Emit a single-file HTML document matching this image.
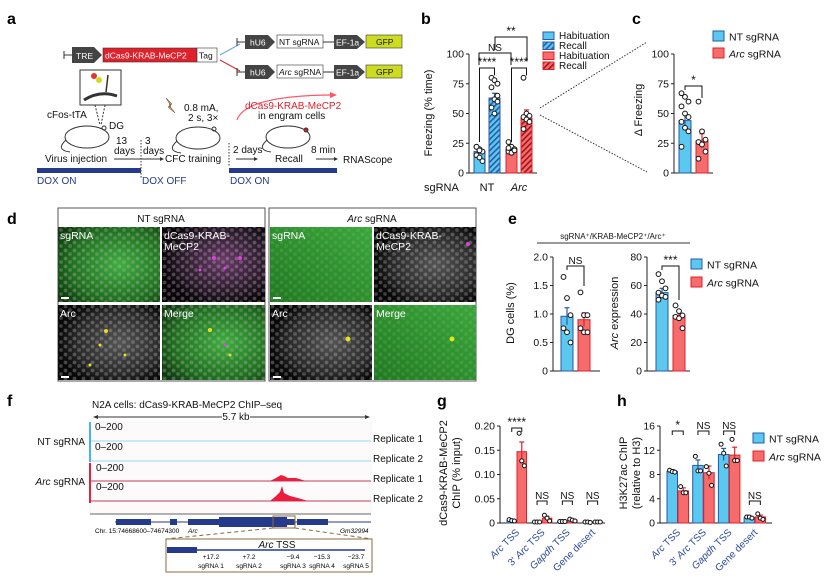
<!DOCTYPE html>
<html><head><meta charset="utf-8">
<style>
html,body{margin:0;padding:0;background:#fff;}
svg{display:block;font-family:"Liberation Sans",Arial,sans-serif;}
.lt{font-weight:bold;font-size:16px;}
.t{font-size:10px;fill:#111;}
.c{font-size:8.5px;fill:#111;}
.s{font-size:8px;fill:#111;}
</style></head>
<body>
<svg id="fig" width="828" height="580" viewBox="0 0 828 580" xmlns="http://www.w3.org/2000/svg">
<defs>
 <pattern id="hb" width="4" height="4" patternUnits="userSpaceOnUse" patternTransform="rotate(45)">
  <rect width="4" height="4" fill="#5bc8ef"/><rect width="1.6" height="4" fill="#2a5aa8"/></pattern>
 <pattern id="hr" width="4" height="4" patternUnits="userSpaceOnUse" patternTransform="rotate(45)">
  <rect width="4" height="4" fill="#f66b6b"/><rect width="1.6" height="4" fill="#a0141c"/></pattern>
 <radialGradient id="gG" cx="60%" cy="50%" r="70%"><stop offset="0" stop-color="#3fae3f"/><stop offset="0.7" stop-color="#1f6e1f"/><stop offset="1" stop-color="#0e3a0e"/></radialGradient>
 <radialGradient id="gW" cx="60%" cy="50%" r="60%"><stop offset="0" stop-color="#555"/><stop offset="0.7" stop-color="#2a2a2a"/><stop offset="1" stop-color="#070707"/></radialGradient>
 <radialGradient id="gM" cx="60%" cy="45%" r="60%"><stop offset="0" stop-color="#6a3a6a"/><stop offset="0.7" stop-color="#2a1a2a"/><stop offset="1" stop-color="#0a040a"/></radialGradient>
 <linearGradient id="gG2" x1="0" y1="1" x2="1" y2="0"><stop offset="0" stop-color="#1f7a1f"/><stop offset="1" stop-color="#3aa83a"/></linearGradient>
 <pattern id="cells" width="9" height="8" patternUnits="userSpaceOnUse"><circle cx="2.5" cy="2.5" r="1.9" fill="#bbb" opacity="0.35"/><circle cx="7" cy="6" r="1.9" fill="#bbb" opacity="0.3"/></pattern>
</defs>

<text class="lt" x="7" y="24">a</text>
<text class="lt" x="421" y="24">b</text>
<text class="lt" x="632" y="24">c</text>
<text class="lt" x="7" y="224">d</text>
<text class="lt" x="508" y="224">e</text>
<text class="lt" x="7" y="406">f</text>
<text class="lt" x="437" y="406">g</text>
<text class="lt" x="617" y="406">h</text>

<g>
 <line x1="64" y1="55" x2="72" y2="55" stroke="#333"/><line x1="64" y1="51" x2="64" y2="59" stroke="#333"/>
 <polygon points="72,47 94,47 102,55 94,63 72,63" fill="#444"/><text x="76" y="59" class="c" style="fill:#fff">TRE</text>
 <rect x="103" y="48" width="94" height="14" fill="#e0202a" stroke="#333" stroke-width="0.6"/><text x="105" y="58.5" class="c" style="fill:#fff">dCas9-KRAB-MeCP2</text>
 <rect x="197" y="48" width="20" height="14" fill="#fff" stroke="#333" stroke-width="0.6"/><text x="199" y="58.5" class="c">Tag</text>
 <line x1="220" y1="55" x2="240" y2="44" stroke="#6aa6d8"/><line x1="220" y1="60" x2="240" y2="71" stroke="#d62a3a"/>
 <g>
  <line x1="237" y1="42" x2="245" y2="42" stroke="#333"/><line x1="237" y1="38" x2="237" y2="46" stroke="#333"/>
  <polygon points="245,35 268,35 275,42 268,49 245,49" fill="#444"/><text x="250" y="45.5" class="c" style="fill:#fff">hU6</text>
  <rect x="277" y="35" width="46" height="13" fill="#fff" stroke="#333" stroke-width="0.6"/><text x="279" y="45" class="c">NT sgRNA</text>
  <line x1="323" y1="42" x2="334" y2="42" stroke="#333"/>
  <polygon points="334,35 357,35 365,42 357,49 334,49" fill="#444"/><text x="336" y="45.5" class="c" style="fill:#fff">EF-1a</text>
  <rect x="366" y="35" width="36" height="13" fill="#cddc1e" stroke="#333" stroke-width="0.6"/><text x="376" y="45" class="c">GFP</text>
 </g>
 <g>
  <line x1="237" y1="72" x2="245" y2="72" stroke="#333"/><line x1="237" y1="68" x2="237" y2="76" stroke="#333"/>
  <polygon points="245,65 268,65 275,72 268,79 245,79" fill="#444"/><text x="250" y="75.5" class="c" style="fill:#fff">hU6</text>
  <rect x="277" y="65" width="46" height="13" fill="#fff" stroke="#333" stroke-width="0.6"/><text x="279" y="75" class="c"><tspan font-style="italic">Arc</tspan> sgRNA</text>
  <line x1="323" y1="72" x2="334" y2="72" stroke="#333"/>
  <polygon points="334,65 357,65 365,72 357,79 334,79" fill="#444"/><text x="336" y="75.5" class="c" style="fill:#fff">EF-1a</text>
  <rect x="366" y="65" width="36" height="13" fill="#cddc1e" stroke="#333" stroke-width="0.6"/><text x="376" y="75" class="c">GFP</text>
 </g>
 <rect x="80" y="70" width="41" height="35" fill="#fff" stroke="#333"/>
 <circle cx="94" cy="76" r="3" fill="#e83030"/><circle cx="99" cy="80" r="3" fill="#cddc1e"/>
 <path d="M84 100 Q100 90 117 96" stroke="#333" stroke-width="3" fill="none"/>
 <line x1="108" y1="75" x2="106" y2="92" stroke="#333" stroke-width="1.5"/>
 <line x1="95" y1="105" x2="100" y2="125" stroke="#333" stroke-dasharray="2,1.5"/><line x1="105" y1="105" x2="101" y2="125" stroke="#333" stroke-dasharray="2,1.5"/>
 <text x="47" y="118" class="t">cFos-tTA</text><text x="109" y="129" class="t">DG</text>
 <g fill="none" stroke="#333" stroke-width="1"><ellipse cx="87" cy="137" rx="22" ry="11"/><path d="M66 140 Q55 150 70 152"/><circle cx="104" cy="128" r="2"/></g>
 <g fill="none" stroke="#333" stroke-width="1"><ellipse cx="198" cy="138" rx="22" ry="11"/><path d="M177 141 Q166 151 181 153"/><circle cx="214" cy="129" r="2"/></g>
 <g fill="none" stroke="#333" stroke-width="1"><ellipse cx="288" cy="137" rx="22" ry="11"/><path d="M267 140 Q256 150 271 152"/><circle cx="306" cy="130" r="2" fill="#e02020"/></g>
 <polygon points="166,98 172,104 169,105 175,113 168,107 171,106" fill="#f0a030" stroke="#333" stroke-width="0.5"/>
 <text x="184" y="111" class="t">0.8 mA,</text><text x="188" y="121" class="t">2 s, 3×</text>
 <path d="M237 120 Q245 96 330 95" stroke="#f56" fill="none" stroke-width="1.2"/><polygon points="330,92 337,95 330,98" fill="#f56"/>
 <text x="245" y="109" class="t" style="fill:#e0202a">dCas9-KRAB-MeCP2</text><text x="258" y="119" class="t">in engram cells</text>
 <text x="116" y="144" class="t">13</text><text x="114" y="154" class="t">days</text><text x="145" y="144" class="t">3</text><text x="143" y="154" class="t">days</text>
 <text x="45" y="162" class="t">Virus injection</text>
 <line x1="114" y1="159" x2="160" y2="159" stroke="#333"/><polygon points="160,157 164,159 160,161" fill="#333"/>
 <line x1="141" y1="140" x2="141" y2="178" stroke="#333" stroke-dasharray="1.5,1.5"/>
 <line x1="229" y1="143" x2="229" y2="166" stroke="#333" stroke-dasharray="1.5,1.5"/>
 <text x="165" y="162" class="t">CFC training</text>
 <text x="233" y="153" class="t">2 days</text><line x1="236" y1="159" x2="254" y2="159" stroke="#333"/><polygon points="254,157 258,159 254,161" fill="#333"/>
 <text x="275" y="162" class="t">Recall</text>
 <text x="311" y="153" class="t">8 min</text><line x1="316" y1="159" x2="334" y2="159" stroke="#333"/><polygon points="334,157 338,159 334,161" fill="#333"/>
 <text x="343" y="163" class="t">RNAScope</text>
 <rect x="37" y="168" width="104" height="5" fill="#253a8a"/><rect x="229" y="168" width="108" height="5" fill="#253a8a"/>
 <text x="37" y="184" class="t" style="fill:#253a8a">DOX ON</text><text x="142" y="184" class="t" style="fill:#253a8a">DOX OFF</text><text x="230" y="184" class="t" style="fill:#253a8a">DOX ON</text>
</g>

<line x1="540" y1="108" x2="647" y2="42" stroke="#333" stroke-dasharray="1.5,1.5"/>
<line x1="540" y1="115" x2="647" y2="172" stroke="#333" stroke-dasharray="1.5,1.5"/>

<g>
 <rect x="58" y="208" width="207" height="173" fill="#fff" stroke="#555"/>
 <text x="161" y="222" class="t" text-anchor="middle" font-size="11">NT sgRNA</text>
 <rect x="269" y="208" width="207" height="173" fill="#fff" stroke="#555"/>
 <text x="372" y="222" class="t" text-anchor="middle" font-size="11"><tspan font-style="italic">Arc</tspan> sgRNA</text>
 <rect x="58" y="227" width="102" height="75" fill="url(#gG)"/><rect x="58" y="227" width="102" height="75" fill="url(#cells)"/>
 <rect x="162" y="227" width="103" height="75" fill="url(#gM)"/><rect x="162" y="227" width="103" height="75" fill="url(#cells)"/>
 <rect x="58" y="305" width="102" height="75" fill="url(#gW)"/><rect x="58" y="305" width="102" height="75" fill="url(#cells)"/>
 <rect x="162" y="305" width="103" height="75" fill="url(#gG)"/><rect x="162" y="305" width="103" height="75" fill="url(#cells)"/>
 <rect x="270" y="227" width="102" height="75" fill="url(#gG2)"/><rect x="270" y="227" width="102" height="75" fill="url(#cells)" opacity="0.5"/>
 <rect x="374" y="227" width="102" height="75" fill="url(#gW)"/><rect x="374" y="227" width="102" height="75" fill="url(#cells)"/>
 <rect x="270" y="305" width="102" height="75" fill="url(#gW)"/><rect x="270" y="305" width="102" height="75" fill="url(#cells)"/>
 <rect x="374" y="305" width="102" height="75" fill="url(#gG2)"/><rect x="374" y="305" width="102" height="75" fill="url(#cells)" opacity="0.5"/>
 <g font-size="10.5" fill="#fff">
  <text x="60" y="239">sgRNA</text><text x="164" y="239">dCas9-KRAB-</text><text x="164" y="250">MeCP2</text>
  <text x="60" y="317">Arc</text><text x="164" y="317">Merge</text>
  <text x="272" y="239">sgRNA</text><text x="376" y="239">dCas9-KRAB-</text><text x="376" y="250">MeCP2</text>
  <text x="272" y="317">Arc</text><text x="376" y="317">Merge</text>
 </g>
 <g fill="#e8e020"><circle cx="106" cy="331" r="2"/><circle cx="100" cy="345" r="1.5"/><circle cx="125" cy="355" r="1.5"/><circle cx="90" cy="365" r="1.5"/><circle cx="210" cy="330" r="2"/><circle cx="230" cy="355" r="1.5"/><circle cx="348" cy="339" r="2.5"/><circle cx="452" cy="339" r="2.5"/></g>
 <g fill="#e040e0"><circle cx="214" cy="258" r="2"/><circle cx="240" cy="258" r="2"/><circle cx="225" cy="268" r="1.5"/><circle cx="200" cy="270" r="1.5"/><circle cx="468" cy="244" r="2"/><circle cx="225" cy="345" r="1.5"/></g>
 <g fill="#fff"><rect x="61" y="297" width="8" height="2"/><rect x="61" y="376" width="8" height="2"/><rect x="273" y="297" width="8" height="2"/><rect x="273" y="376" width="8" height="2"/></g>
</g>

<text x="613" y="239" class="s" font-size="9" text-anchor="middle">sgRNA⁺/KRAB-MeCP2⁺/Arc⁺</text>
<line x1="537" y1="243" x2="690" y2="243" stroke="#333"/>

<g>
 <text x="92" y="408" class="t" font-size="11">N2A cells: dCas9-KRAB-MeCP2 ChIP–seq</text>
 <line x1="95" y1="417" x2="368" y2="417" stroke="#333"/><polygon points="93,417 98,415 98,419" fill="#333"/><polygon points="370,417 365,415 365,419" fill="#333"/>
 <rect x="222" y="411" width="28" height="11" fill="#fff"/><text x="236" y="420" class="t" text-anchor="middle">5.7 kb</text>
 <rect x="90" y="422" width="281" height="92" fill="#fcfafa" stroke="#eee" stroke-width="0.5"/>
 <rect x="89" y="422" width="2" height="40" fill="#42b6e8"/><rect x="89" y="463" width="2" height="40" fill="#e8203a"/>
 <line x1="91" y1="441" x2="371" y2="441" stroke="#9cd6ee"/><line x1="91" y1="461" x2="371" y2="461" stroke="#9cd6ee"/>
 <line x1="91" y1="481" x2="371" y2="481" stroke="#c04060"/><line x1="91" y1="501" x2="371" y2="501" stroke="#c04060"/>
 <path d="M270 481 L276 478 L281 475 L284 476 L288 478 L296 478 L306 481 Z" fill="#ee1c3c"/>
 <path d="M270 501 L276 496 L280 492 L282 486 L284 493 L290 496 L298 498 L308 501 Z" fill="#ee1c3c"/>
 <g class="t"><text x="95" y="430">0–200</text><text x="95" y="450">0–200</text><text x="96" y="471">0–200</text><text x="96" y="490">0–200</text></g>
 <text x="85" y="445" class="t" text-anchor="end">NT sgRNA</text>
 <text x="85" y="485" class="t" text-anchor="end"><tspan font-style="italic">Arc</tspan> sgRNA</text>
 <g class="t"><text x="373" y="442">Replicate 1</text><text x="373" y="462">Replicate 2</text><text x="373" y="482">Replicate 1</text><text x="373" y="502">Replicate 2</text></g>
 <line x1="90" y1="514" x2="371" y2="514" stroke="#666"/>
 <line x1="115" y1="522" x2="371" y2="522" stroke="#253a8a"/>
 <g fill="#253a8a"><rect x="116" y="519" width="35" height="6"/><rect x="170" y="519" width="7" height="6"/><rect x="188" y="519" width="31" height="6"/><rect x="219" y="517" width="68" height="10"/><rect x="287" y="519" width="8" height="6"/><rect x="297" y="519" width="31" height="6"/></g>
 <rect x="273" y="516" width="22" height="12" fill="none" stroke="#8a6a40" stroke-width="1"/>
 <text x="95" y="533" font-size="6.5">Chr. 15:74668600–74674300</text><text x="188" y="533" font-size="6.5" font-style="italic">Arc</text><text x="340" y="533" font-size="6.5" font-style="italic">Gm32994</text>
 <line x1="273" y1="528" x2="166" y2="539" stroke="#8a6a40" stroke-dasharray="4,3"/><line x1="295" y1="528" x2="372" y2="539" stroke="#8a6a40" stroke-dasharray="4,3"/>
 <rect x="166" y="539" width="206" height="33" fill="#fff" stroke="#8a6a40"/>
 <rect x="167" y="547" width="30" height="6" fill="#253a8a"/><line x1="197" y1="550" x2="365" y2="550" stroke="#253a8a" stroke-width="1.5"/>
 <text x="277" y="548" class="t" text-anchor="middle"><tspan font-style="italic">Arc</tspan> TSS</text>
 <g font-size="6.5" text-anchor="middle"><text x="211" y="559">+17.2</text><text x="249" y="559">+7.2</text><text x="293" y="559">−9.4</text><text x="322" y="559">−15.3</text><text x="356" y="559">−23.7</text>
 <text x="211" y="568">sgRNA 1</text><text x="249" y="568">sgRNA 2</text><text x="293" y="568">sgRNA 3</text><text x="322" y="568">sgRNA 4</text><text x="356" y="568">sgRNA 5</text></g>
</g>

<g id="charts"></g>
</svg>

<script>
var bCategories = ["NT", "Arc"];
var bHabituation = [18, 20];
var bRecall = [63, 46];
var bHabSem = [2, 2];
var bRecSem = [4, 7];
var bDotsNTHab = [22, 20, 18, 15, 13, 10, 22, 19];
var bDotsNTRec = [80, 78, 75, 72, 62, 60, 55, 50, 65];
var bDotsArcHab = [26, 22, 20, 18, 17, 19, 21];
var bDotsArcRec = [80, 50, 48, 47, 45, 43, 37];
var bTicks = [0, 25, 50, 75, 100];
var cValues = [44, 27];
var cSem = [5, 6];
var cDotsNT = [67, 64, 60, 56, 50, 47, 43, 38, 35, 22];
var cDotsArc = [60, 35, 28, 26, 24, 18, 12];
var cTicks = [0, 25, 50, 75, 100];
var e1Values = [0.96, 0.9];
var e1Sem = [0.15, 0.12];
var e1DotsNT = [1.65, 1.28, 0.98, 0.75, 0.68, 0.5];
var e1DotsArc = [1.38, 0.98, 0.98, 0.75, 0.68, 0.68];
var e1Ticks = [0, 0.5, 1.0, 1.5, 2.0];
var e1TickLabels = ["0", "0.5", "1.0", "1.5", "2.0"];
var e2Values = [55, 39];
var e2Sem = [3, 2.5];
var e2DotsNT = [68, 63, 58, 55, 53, 52, 50];
var e2DotsArc = [46, 42, 39, 38, 37, 30];
var e2Ticks = [0, 20, 40, 60, 80];
var gCategories = ["Arc TSS", "3′ Arc TSS", "Gapdh TSS", "Gene desert"];
var gNT = [0.005, 0.002, 0.003, 0.002];
var gArc = [0.147, 0.01, 0.006, 0.002];
var gNTSem = [0.002, 0.001, 0.001, 0.001];
var gArcSem = [0.02, 0.004, 0.002, 0.001];
var gDotsNT = [[0.007, 0.005, 0.004], [0.002, 0.002, 0.002], [0.003, 0.003, 0.003], [0.002, 0.002, 0.001]];
var gDotsArc = [[0.185, 0.128, 0.118], [0.016, 0.01, 0.004], [0.008, 0.006, 0.004], [0.002, 0.002, 0.002]];
var gTicks = [0, 0.05, 0.10, 0.15, 0.20];
var gTickLabels = ["0", "0.05", "0.10", "0.15", "0.20"];
var gSig = ["****", "NS", "NS", "NS"];
var hNT = [8.5, 9.5, 11.3, 0.9];
var hArc = [5.3, 8.3, 11.2, 1.0];
var hNTSem = [0.3, 0.9, 1.0, 0.2];
var hArcSem = [0.5, 1.1, 1.3, 0.3];
var hDotsNT = [[8.7, 8.5, 8.4], [11, 8.6, 8.6], [13, 11.5, 9.4], [1.0, 1.0, 0.8]];
var hDotsArc = [[6.0, 5.0, 5.0], [9.3, 8.2, 6.2], [13.8, 10.3, 10.3], [1.5, 0.8, 0.6]];
var hTicks = [0, 4, 8, 12, 16];
var hSig = ["*", "NS", "NS", "NS"];

var NS = "http://www.w3.org/2000/svg";
var root = document.getElementById("charts");
var BLUE = "#5bc8ef", BLUE_S = "#2a5aa8", RED = "#f66b6b", RED_S = "#e0202a";
function mk(tag, attrs, parent) {
  var e = document.createElementNS(NS, tag);
  for (var k in attrs) e.setAttribute(k, attrs[k]);
  (parent || root).appendChild(e);
  return e;
}
function txt(x, y, s, attrs, parent) {
  var e = mk("text", attrs || {}, parent);
  e.setAttribute("x", x); e.setAttribute("y", y);
  e.textContent = s;
  return e;
}
function linScale(d0, d1, r0, r1) { return function (v) { return r0 + (v - d0) / (d1 - d0) * (r1 - r0); }; }

function axis(g, x0, x1, y, ticks, labels, yTop, titleLines, titleX, titleY) {
  mk("line", { x1: x0, y1: y(ticks[0]), x2: x0, y2: y(ticks[ticks.length - 1]), stroke: "#222", "stroke-width": 1 }, g);
  mk("line", { x1: x0, y1: y(ticks[0]), x2: x1, y2: y(ticks[0]), stroke: "#222", "stroke-width": 1 }, g);
  for (var i = 0; i < ticks.length; i++) {
    mk("line", { x1: x0 - 3, y1: y(ticks[i]), x2: x0, y2: y(ticks[i]), stroke: "#222" }, g);
    var t = txt(x0 - 5, y(ticks[i]) + 3.5, labels ? labels[i] : String(ticks[i]), { "font-size": "10.5", "text-anchor": "end", fill: "#111" }, g);
    
    
  }
  for (var j = 0; j < titleLines.length; j++) {
    var tx = titleX + j * 13;
    var tt = txt(tx, titleY, "", { "font-size": "11", "text-anchor": "middle", transform: "rotate(-90 " + tx + " " + titleY + ")", fill: "#111" }, g);
    tt.innerHTML = titleLines[j];
    
    
  }
}
function bar(g, x, w, y, v, sem, fill, stroke, name) {
  var r = mk("rect", { x: x, y: y(v), width: w, height: y(0) - y(v), fill: fill, stroke: stroke, "stroke-width": 1 }, g);
  
  
  var cx = x + w / 2;
  mk("line", { x1: cx, y1: y(v + sem), x2: cx, y2: y(v - sem), stroke: stroke, "stroke-width": 1.2 }, g);
  mk("line", { x1: cx - 2.5, y1: y(v + sem), x2: cx + 2.5, y2: y(v + sem), stroke: stroke, "stroke-width": 1.2 }, g);
}
function dots(g, cx, y, vals, spread, r) {
  for (var i = 0; i < vals.length; i++) {
    var off = ((i % 3) - 1) * spread;
    var c = mk("circle", { cx: cx + off, cy: y(vals[i]), r: r || 2.4, fill: "#fff", stroke: "#111", "stroke-width": 1 }, g);
    
    
  }
}
function bracket(g, xa, xb, yTop, ya, yb, label) {
  mk("polyline", { points: xa + "," + ya + " " + xa + "," + yTop + " " + xb + "," + yTop + " " + xb + "," + yb, fill: "none", stroke: "#111", "stroke-width": 1 }, g);
  var t = txt((xa + xb) / 2, yTop - 2, label, { "font-size": label.indexOf("*") >= 0 ? "12" : "10", "text-anchor": "middle", fill: "#111" }, g);
  
  
}
function legend(g, x, y, fill, stroke, html, h, fs) {
  var r = mk("rect", { x: x, y: y, width: 11, height: h || 10, fill: fill, stroke: stroke, "stroke-width": 1 }, g);
  
  
  var t = txt(x + 16, y + (h || 10) - 0.5, "", { "font-size": fs || "10.5", fill: "#111" }, g);
  t.innerHTML = html;
  
  
}
function group(name) {
  var g = mk("g", {});
  
  
  return g;
}

(function () {
  var g = group("panel-b-chart");
  var y = linScale(0, 100, 173, 54);
  axis(g, 469, 537, y, bTicks, null, 54, ["Freezing (% time)"], 432, 113);
  var gs = 32, bs = 15, w = 11, x0 = 474;
  var hab = [BLUE, RED], rec = ["url(#hb)", "url(#hr)"], st = [BLUE_S, RED_S];
  var dH = [bDotsNTHab, bDotsArcHab], dR = [bDotsNTRec, bDotsArcRec];
  for (var i = 0; i < bCategories.length; i++) {
    var xa = x0 + i * gs;
    bar(g, xa, w, y, bHabituation[i], bHabSem[i], hab[i], st[i], "bar-habituation-" + bCategories[i].toLowerCase());
    bar(g, xa + bs, w, y, bRecall[i], bRecSem[i], rec[i], st[i], "bar-recall-" + bCategories[i].toLowerCase());
    dots(g, xa + w / 2, y, dH[i], 3);
    dots(g, xa + bs + w / 2, y, dR[i], 3);
    var lt = txt(xa + bs - 2, 191, bCategories[i], { "font-size": "11", "text-anchor": "middle", "font-style": i ? "italic" : "normal", fill: "#111" }, g);
    
    
    bracket(g, xa + w / 2, xa + bs + w / 2, 68, y(26), y(82), "****");
  }
  bracket(g, 479, 511, 53, 65, 65, "NS");
  bracket(g, 495, 527, 37, 50, 61, "**");
  txt(424, 191, "sgRNA", { "font-size": "11", fill: "#111" }, g);
  legend(g, 543, 32, BLUE, BLUE_S, "Habituation", 7.5, "10");
  legend(g, 543, 42, "url(#hb)", BLUE_S, "Recall", 7.5, "10");
  legend(g, 543, 52, RED, RED_S, "Habituation", 7.5, "10");
  legend(g, 543, 62, "url(#hr)", RED_S, "Recall", 7.5, "10");
})();

(function () {
  var g = group("panel-c-chart");
  var y = linScale(0, 100, 173, 54);
  axis(g, 674, 713, y, cTicks, null, 54, ["Δ Freezing"], 642, 110);
  bar(g, 679, 12, y, cValues[0], cSem[0], BLUE, BLUE_S, "bar-nt-sgrna");
  bar(g, 696, 12, y, cValues[1], cSem[1], RED, RED_S, "bar-arc-sgrna");
  dots(g, 685, y, cDotsNT, 3.5);
  dots(g, 702, y, cDotsArc, 3.5);
  bracket(g, 685, 702, 86, 90, 98, "*");
  legend(g, 713, 31, BLUE, BLUE_S, "NT sgRNA");
  legend(g, 713, 48, RED, RED_S, "<tspan font-style='italic'>Arc</tspan> sgRNA");
})();

(function () {
  var g = group("panel-e1-chart");
  var y = linScale(0, 2, 371, 257);
  axis(g, 553, 600, y, e1Ticks, e1TickLabels, 257, ["DG cells (%)"], 514, 313);
  bar(g, 561, 12, y, e1Values[0], e1Sem[0], BLUE, BLUE_S, "bar-nt-sgrna");
  bar(g, 578, 12, y, e1Values[1], e1Sem[1], RED, RED_S, "bar-arc-sgrna");
  dots(g, 567, y, e1DotsNT, 3.5);
  dots(g, 584, y, e1DotsArc, 3.5);
  bracket(g, 567, 584, 266, 270, 286, "NS");
  var g2 = group("panel-e2-chart");
  var y2 = linScale(0, 80, 371, 257);
  axis(g2, 647, 690, y2, e2Ticks, null, 257, ["<tspan font-style='italic'>Arc</tspan> expression"], 618, 313);
  bar(g2, 656, 12, y2, e2Values[0], e2Sem[0], BLUE, BLUE_S, "bar-nt-sgrna");
  bar(g2, 673, 12, y2, e2Values[1], e2Sem[1], RED, RED_S, "bar-arc-sgrna");
  dots(g2, 662, y2, e2DotsNT, 3.5);
  dots(g2, 679, y2, e2DotsArc, 3.5);
  bracket(g2, 662, 679, 266, 270, 300, "***");
  legend(g2, 691, 259, BLUE, BLUE_S, "NT sgRNA");
  legend(g2, 691, 277, RED, RED_S, "<tspan font-style='italic'>Arc</tspan> sgRNA");
})();

function grouped(name, x0, xEnd, gs, bs, w, y, ticks, labels, title, titleX, nt, arc, ntS, arcS, dNT, dArc, sig, sigY) {
  var g = group(name);
  axis(g, x0, xEnd, y, ticks, labels, 0, title, titleX, 473);
  for (var i = 0; i < gCategories.length; i++) {
    var xa = x0 + 7 + i * gs;
    bar(g, xa, w, y, nt[i], ntS[i], BLUE, BLUE_S, "bar-nt-" + i);
    bar(g, xa + bs, w, y, arc[i], arcS[i], RED, RED_S, "bar-arc-" + i);
    dots(g, xa + w / 2, y, dNT[i], 2.6, 2);
    dots(g, xa + bs + w / 2, y, dArc[i], 2.6, 2);
    var sy = sigY[i];
    bracket(g, xa + w / 2, xa + bs + w / 2, sy, sy + 4, sy + 4, sig[i]);
    var cx = xa + bs, ly = 533;
    var lt = txt(cx + 3, ly, "", { "font-size": "10", "text-anchor": "end", transform: "rotate(-45 " + (cx + 3) + " " + ly + ")", fill: "#2a4a9a" }, g);
    var c = gCategories[i];
    if (i === 0) lt.innerHTML = "<tspan font-style='italic'>Arc</tspan> TSS";
    else if (i === 1) lt.innerHTML = "3′ <tspan font-style='italic'>Arc</tspan> TSS";
    else if (i === 2) lt.innerHTML = "<tspan font-style='italic'>Gapdh</tspan> TSS";
    else lt.textContent = c;
    
    
  }
  return g;
}
(function () {
  var y = linScale(0, 0.2, 523, 426);
  grouped("panel-g-chart", 500, 605, 25.3, 10, 9.5, y, gTicks, gTickLabels,
    ["dCas9-KRAB-MeCP2", "ChIP (% input)"], 447, gNT, gArc, gNTSem, gArcSem, gDotsNT, gDotsArc, gSig, [428, 501, 501, 501]);
  var yh = linScale(0, 16, 523, 426);
  var gh = grouped("panel-h-chart", 660, 772, 25.7, 11, 10.5, yh, hTicks, null,
    ["H3K27ac ChIP", "(relative to H3)"], 627, hNT, hArc, hNTSem, hArcSem, hDotsNT, hDotsArc, hSig, [431, 431, 431, 501]);
  legend(gh, 753, 433, BLUE, BLUE_S, "NT sgRNA");
  legend(gh, 753, 451, RED, RED_S, "<tspan font-style='italic'>Arc</tspan> sgRNA");
})();
</script>
</body></html>
